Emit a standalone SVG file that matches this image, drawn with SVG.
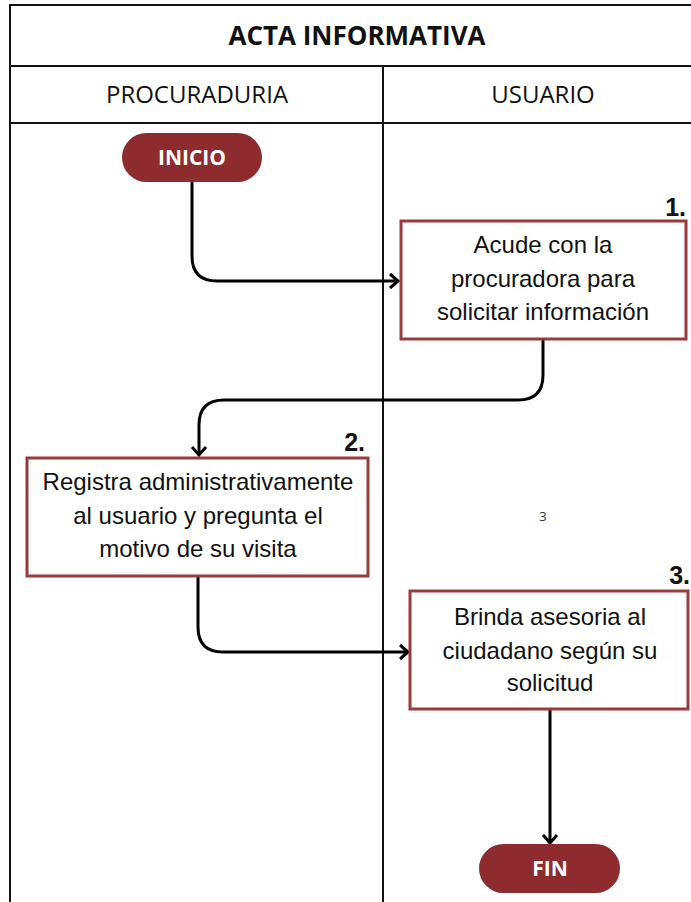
<svg xmlns="http://www.w3.org/2000/svg" width="691" height="902" viewBox="0 0 691 902">
<style>
.frame{fill:none;stroke:#111;stroke-width:2}
.pill{fill:#8e2b2e}
.pilltxt{font-family:"Open Sans",sans-serif;font-weight:bold;font-size:21px;fill:#fff;text-anchor:middle}
.box{fill:#fff;stroke:#9b3a3c;stroke-width:3}
.bt{font-family:"Liberation Sans",Arial,sans-serif;font-size:24px;fill:#111;text-anchor:middle}
.num{font-family:"Liberation Sans",Arial,sans-serif;font-weight:bold;font-size:25px;fill:#111;text-anchor:end}
.hdr{font-family:"Open Sans",sans-serif;font-size:24px;fill:#111;text-anchor:middle}
.title{font-family:"Open Sans",sans-serif;font-weight:bold;font-size:26px;fill:#111;text-anchor:middle}
.conn{fill:none;stroke:#000;stroke-width:3}
</style>
<defs>
<marker id="arr" markerUnits="userSpaceOnUse" markerWidth="20" markerHeight="20" viewBox="-10 -10 20 20" refX="0" refY="0" orient="auto">
<path d="M-8,-7 L0,0 L-8,7" fill="none" stroke="#000" stroke-width="3"/>
</marker>
</defs>
<g id="table">
<rect class="frame" x="10" y="5" width="693" height="910"/>
<line class="frame" x1="10" y1="66" x2="703" y2="66"/>
<line class="frame" x1="10" y1="123" x2="703" y2="123"/>
<line class="frame" x1="383" y1="66" x2="383" y2="902"/>
<text class="title" x="357" y="45">ACTA INFORMATIVA</text>
<text class="hdr" x="197" y="103">PROCURADURIA</text>
<text class="hdr" x="543" y="103">USUARIO</text>
</g>
<g id="connectors">
<path class="conn" d="M192,182 V256 Q192,281 217,281 H398" marker-end="url(#arr)"/>
<path class="conn" d="M543,339 V375 Q543,400 518,400 H224 Q199,400 199,425 V455" marker-end="url(#arr)"/>
<path class="conn" d="M198,577 V627 Q198,652 223,652 H408" marker-end="url(#arr)"/>
<path class="conn" d="M550,709 V843" marker-end="url(#arr)"/>
</g>
<g id="inicio">
<rect class="pill" x="122" y="133" width="140" height="49" rx="24.5"/>
<text class="pilltxt" x="192" y="165">INICIO</text>
</g>
<g id="step1">
<rect class="box" x="401" y="221" width="285" height="118"/>
<text class="bt" x="543" y="253">Acude con la</text>
<text class="bt" x="543" y="287">procuradora para</text>
<text class="bt" x="543" y="320">solicitar información</text>
<text class="num" x="686" y="216">1.</text>
</g>
<g id="step2">
<rect class="box" x="27" y="458" width="341" height="118"/>
<text class="bt" x="198" y="490">Registra administrativamente</text>
<text class="bt" x="198" y="524">al usuario y pregunta el</text>
<text class="bt" x="198" y="557">motivo de su visita</text>
<text class="num" x="365" y="451">2.</text>
</g>
<text x="543" y="521" style="font-family:'Open Sans',sans-serif;font-size:13px;fill:#333;text-anchor:middle">3</text>
<g id="step3">
<rect class="box" x="410" y="591" width="278" height="118"/>
<text class="bt" x="550" y="625">Brinda asesoria al</text>
<text class="bt" x="550" y="659">ciudadano según su</text>
<text class="bt" x="550" y="691">solicitud</text>
<text class="num" x="690" y="584">3.</text>
</g>
<g id="fin">
<rect class="pill" x="479" y="844" width="141" height="49" rx="24.5"/>
<text class="pilltxt" x="550" y="876">FIN</text>
</g>
</svg>
